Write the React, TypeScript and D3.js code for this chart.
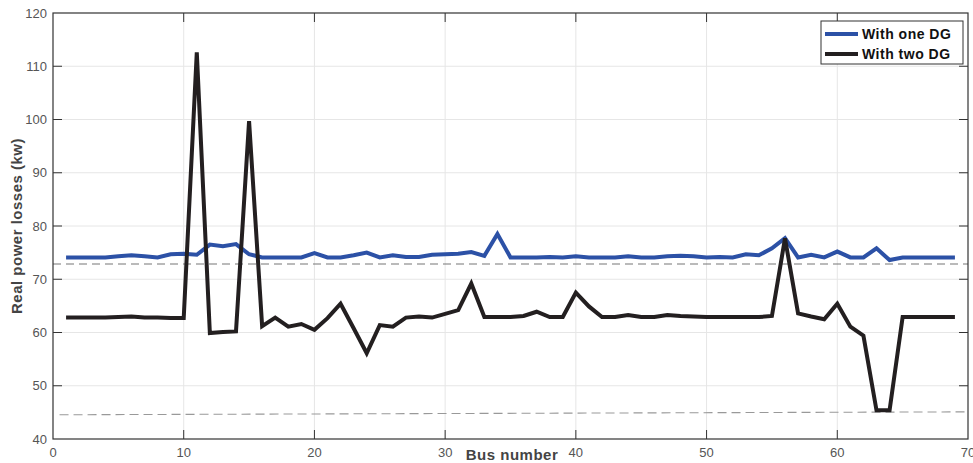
import * as d3 from "d3";

// bus numbers 1..69
const buses = d3.range(1, 70);

const withOneDG = [
  74.1, 74.1, 74.1, 74.1, 74.3, 74.5, 74.3, 74.1, 74.7, 74.8,
  74.6, 76.5, 76.2, 76.6, 74.7, 74.1, 74.1, 74.1, 74.1, 74.9,
  74.1, 74.1, 74.5, 75.0, 74.1, 74.5, 74.2, 74.2, 74.6, 74.7,
  74.8, 75.1, 74.4, 78.5, 74.1, 74.1, 74.1, 74.2, 74.1, 74.3,
  74.1, 74.1, 74.1, 74.3, 74.1, 74.1, 74.3, 74.4, 74.3, 74.1,
  74.2, 74.1, 74.7, 74.5, 75.8, 77.7, 74.1, 74.6, 74.1, 75.2,
  74.1, 74.1, 75.8, 73.6, 74.1, 74.1, 74.1, 74.1, 74.1,
];

const withTwoDG = [
  62.8, 62.8, 62.8, 62.8, 62.9, 63.0, 62.8, 62.8, 62.7, 62.7,
  112.6, 59.9, 60.1, 60.2, 99.7, 61.2, 62.8, 61.1, 61.6, 60.5,
  62.7, 65.4, 60.8, 56.1, 61.4, 61.1, 62.8, 63.0, 62.8, 63.5,
  64.2, 69.2, 62.9, 62.9, 62.9, 63.1, 63.9, 62.9, 62.9, 67.5,
  64.9, 62.9, 62.9, 63.3, 62.9, 62.9, 63.3, 63.1, 63.0, 62.9,
  62.9, 62.9, 62.9, 62.9, 63.1, 77.7, 63.6, 63.0, 62.5, 65.4,
  61.1, 59.4, 45.4, 45.4, 62.9, 62.9, 62.9, 62.9, 62.9,
];

// dashed reference lines: [x, y] end points
const refUpper: [number, number][] = [[0, 72.85], [70, 72.85]];
const refLower: [number, number][] = [[0.5, 44.55], [70, 45.1]];

const xTicks = [0, 10, 20, 30, 40, 50, 60, 70];
const yTicks = [40, 50, 60, 70, 80, 90, 100, 110, 120];

const W = 973;
const H = 463;
const M = { left: 53, right: 5, top: 13, bottom: 24 };

export default function App() {
  const x = d3.scaleLinear().domain([0, 70]).range([M.left, W - M.right]);
  const y = d3.scaleLinear().domain([40, 120]).range([H - M.bottom, M.top]);
  const line = d3.line<number>().x((_, i) => x(buses[i])).y((d) => y(d));
  const refLine = d3.line<[number, number]>().x((d) => x(d[0])).y((d) => y(d[1]));

  const x0 = x(0), x1 = x(70), y0 = y(40), y1 = y(120);
  const font = "Arial, 'Liberation Sans', Helvetica, sans-serif";

  return (
    <svg width={W} height={H} style={{ position: "fixed", left: 0, top: 0, background: "#fff" }} fontFamily={font}>
      {/* grid */}
      {xTicks.slice(1, -1).map((t) => (
        <line key={"gx" + t} x1={x(t)} x2={x(t)} y1={y1} y2={y0} stroke="#e6e6e6" strokeWidth={1} />
      ))}
      {yTicks.slice(1, -1).map((t) => (
        <line key={"gy" + t} x1={x0} x2={x1} y1={y(t)} y2={y(t)} stroke="#e6e6e6" strokeWidth={1} />
      ))}

      {/* reference dashed lines */}
      <path d={refLine(refUpper) ?? ""} fill="none" stroke="#777" strokeWidth={1.1} strokeDasharray="8,5" />
      <path d={refLine(refLower) ?? ""} fill="none" stroke="#999" strokeWidth={1.1} strokeDasharray="9,5" />

      {/* series */}
      <path d={line(withOneDG) ?? ""} fill="none" stroke="#2c51a6" strokeWidth={4} />
      <path d={line(withTwoDG) ?? ""} fill="none" stroke="#231f20" strokeWidth={4} />

      {/* box */}
      <rect x={x0} y={y1} width={x1 - x0} height={y0 - y1} fill="none" stroke="#333" strokeWidth={1.2} />

      {/* ticks */}
      {xTicks.slice(1, -1).map((t) => (
        <g key={"tx" + t}>
          <line x1={x(t)} x2={x(t)} y1={y0} y2={y0 - 9} stroke="#333" />
          <line x1={x(t)} x2={x(t)} y1={y1} y2={y1 + 9} stroke="#333" />
        </g>
      ))}
      {yTicks.slice(1, -1).map((t) => (
        <g key={"ty" + t}>
          <line x1={x0} x2={x0 + 9} y1={y(t)} y2={y(t)} stroke="#333" />
          <line x1={x1} x2={x1 - 9} y1={y(t)} y2={y(t)} stroke="#333" />
        </g>
      ))}

      {/* tick labels */}
      {xTicks.map((t) => (
        <text key={"lx" + t} x={x(t)} y={y0 + 18} textAnchor="middle" fontSize={13} fill="#555">
          {t}
        </text>
      ))}
      {yTicks.map((t) => (
        <text key={"ly" + t} x={x0 - 6} y={y(t) + 4.5} textAnchor="end" fontSize={13} fill="#555">
          {t}
        </text>
      ))}

      {/* axis titles */}
      <text x={512} y={460} textAnchor="middle" fontSize={15} fontWeight="bold" fill="#444" letterSpacing={0.5}>
        Bus number
      </text>
      <text
        transform={`translate(22, ${(y0 + y1) / 2}) rotate(-90)`}
        textAnchor="middle"
        fontSize={15}
        fontWeight="bold"
        fill="#444"
        letterSpacing={0.5}
      >
        Real power losses (kw)
      </text>

      {/* legend */}
      <g>
        <rect x={821} y={21} width={142} height={43} fill="#fff" stroke="#333" strokeWidth={1} />
        <line x1={825} x2={858} y1={34} y2={34} stroke="#2c51a6" strokeWidth={4} />
        <text x={862} y={39} fontSize={14} fontWeight="bold" fill="#111" letterSpacing={0.5}>With one DG</text>
        <line x1={825} x2={858} y1={54} y2={54} stroke="#231f20" strokeWidth={4} />
        <text x={862} y={59} fontSize={14} fontWeight="bold" fill="#111" letterSpacing={0.5}>With two DG</text>
      </g>
    </svg>
  );
}
